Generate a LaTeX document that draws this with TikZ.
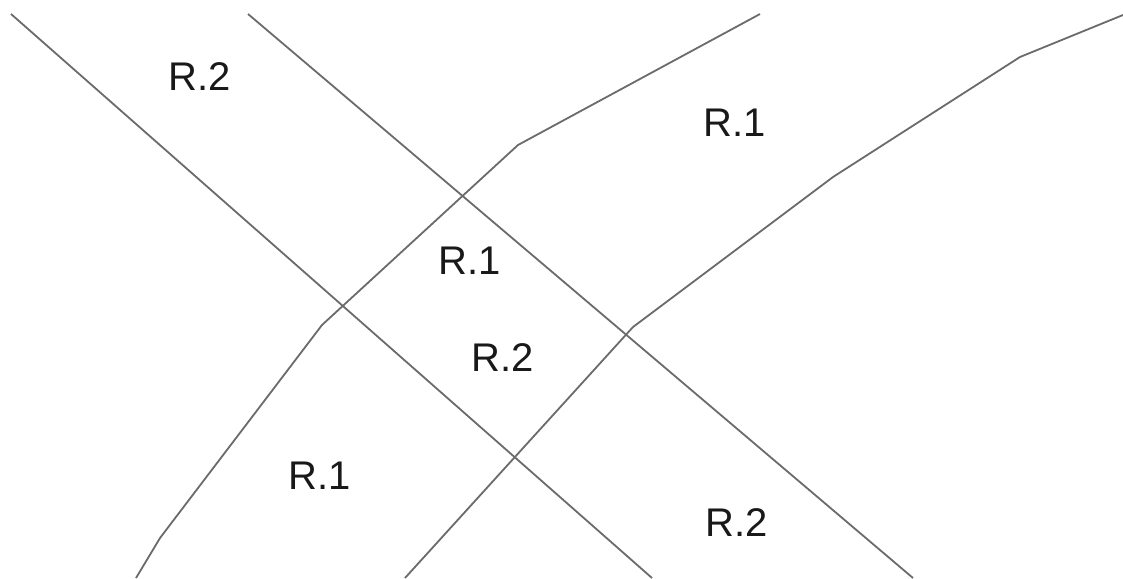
\documentclass[tikz,border=0pt]{standalone}
\usepackage{fontspec}
\setmainfont{Liberation Sans}
\begin{document}
\begin{tikzpicture}[x=1pt,y=-1pt,
  road/.style={draw=black!58, line width=1.8pt, line join=round},
  lbl/.style={font=\fontsize{40}{48}\selectfont, inner sep=0pt, text=black!90}]
\useasboundingbox[fill=white] (0,0) rectangle (1123,578);
% straight lines
\coordinate (a1) at (11,14);
\coordinate (a2) at (652,578);
\coordinate (b1) at (248,14);
\coordinate (b2) at (913,578);
\draw[road] (a1) -- (a2);
\draw[road] (b1) -- (b2);
% polyline C
\coordinate (c0) at (136,578);
\coordinate (c1) at (160,538);
\coordinate (c2) at (322,325);
\coordinate (c3) at (518,145);
\coordinate (c4) at (760,14);
\draw[road] (c0) -- (c1) -- (c2) -- (c3) -- (c4);
% polyline D
\coordinate (d0) at (405,578);
\coordinate (d1) at (633,327);
\coordinate (d2) at (833,177);
\coordinate (d3) at (1020,57);
\coordinate (d4) at (1123,15);
\draw[road] (d0) -- (d1) -- (d2) -- (d3) -- (d4);
% labels
\node[lbl] (l1) at (200,77) {R.2};
\node[lbl] (l2) at (735,123) {R.1};
\node[lbl] (l3) at (470,261) {R.1};
\node[lbl] (l4) at (503,358) {R.2};
\node[lbl] (l5) at (320,476) {R.1};
\node[lbl] (l6) at (737,523) {R.2};
\end{tikzpicture}
\end{document}
